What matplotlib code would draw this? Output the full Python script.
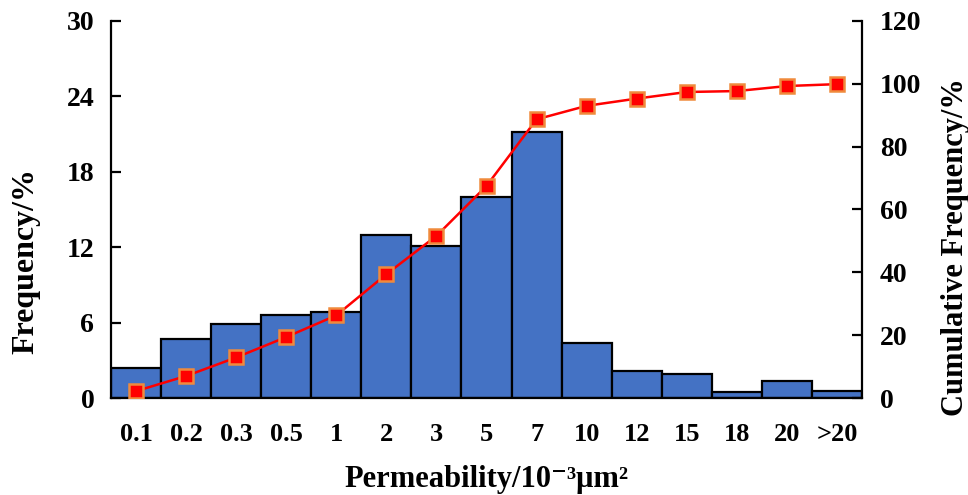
import matplotlib
matplotlib.use("Agg")
import matplotlib.pyplot as plt
import numpy as np

categories = ["0.1", "0.2", "0.3", "0.5", "1", "2", "3", "5", "7", "10", "12", "15", "18", "20", ">20"]
frequency = [2.4, 4.67, 5.89, 6.6, 6.82, 12.94, 12.09, 16.0, 21.19, 4.35, 2.12, 1.93, 0.45, 1.38, 0.58]
cumulative = [2.2, 7.0, 12.9, 19.4, 26.3, 39.4, 51.6, 67.5, 88.7, 93.0, 95.3, 97.4, 97.7, 99.3, 99.9]
left_ticks = [0, 6, 12, 18, 24, 30]
right_ticks = [0, 20, 40, 60, 80, 100, 120]

plt.rcParams['font.family'] = ['Liberation Serif', 'DejaVu Serif']
plt.rcParams['font.weight'] = 'bold'

fig = plt.figure(figsize=(9.68, 4.95), dpi=100)
ax = fig.add_axes([111/968, 1-398/495, (862-111)/968, (398-21)/495])
x = np.arange(len(categories))
ax.bar(x, frequency, width=1.0, color="#4472C4", edgecolor="black", linewidth=1.6, zorder=2)
ax.set_xlim(-0.5, len(categories)-0.5)
ax.set_ylim(0, 30)
ax.set_yticks(left_ticks)
ax.set_xticks(x)
ax.set_xticklabels(categories)
ax.tick_params(axis='x', length=0, pad=18, labelsize=19)
ax.tick_params(axis='y', direction='in', length=7, width=1.6, labelsize=20, pad=12)
for s in ['top', 'right']:
    ax.spines[s].set_visible(False)
for s in ['left', 'bottom']:
    ax.spines[s].set_linewidth(1.6)
ax.set_ylabel("Frequency/%", fontsize=23, fontweight='bold')
ax.yaxis.set_label_coords(-0.094, 0.363)
ax.set_xlabel("Permeability/10\u207b\u00b3\u03bcm\u00b2", fontsize=22, fontweight='bold', labelpad=14)

ax2 = ax.twinx()
ax2.plot(x, cumulative, color="red", linewidth=1.8, marker='s', markersize=10,
         markerfacecolor="red", markeredgecolor="#F08A3C", markeredgewidth=1.8, zorder=3)
ax2.set_ylim(0, 120)
ax2.set_yticks(right_ticks)
ax2.tick_params(axis='y', direction='in', length=7, width=1.6, labelsize=20, pad=13)
for s in ['top', 'left', 'bottom']:
    ax2.spines[s].set_visible(False)
ax2.spines['right'].set_linewidth(1.6)
ax2.set_ylabel("Cumulative Frequency/%", fontsize=22, fontweight='bold')
ax2.yaxis.set_label_coords(1.105, 0.40)

for lbl in ax.get_xticklabels() + ax.get_yticklabels() + ax2.get_yticklabels():
    lbl.set_fontweight('bold')

fig.savefig("out.png", dpi=100)
